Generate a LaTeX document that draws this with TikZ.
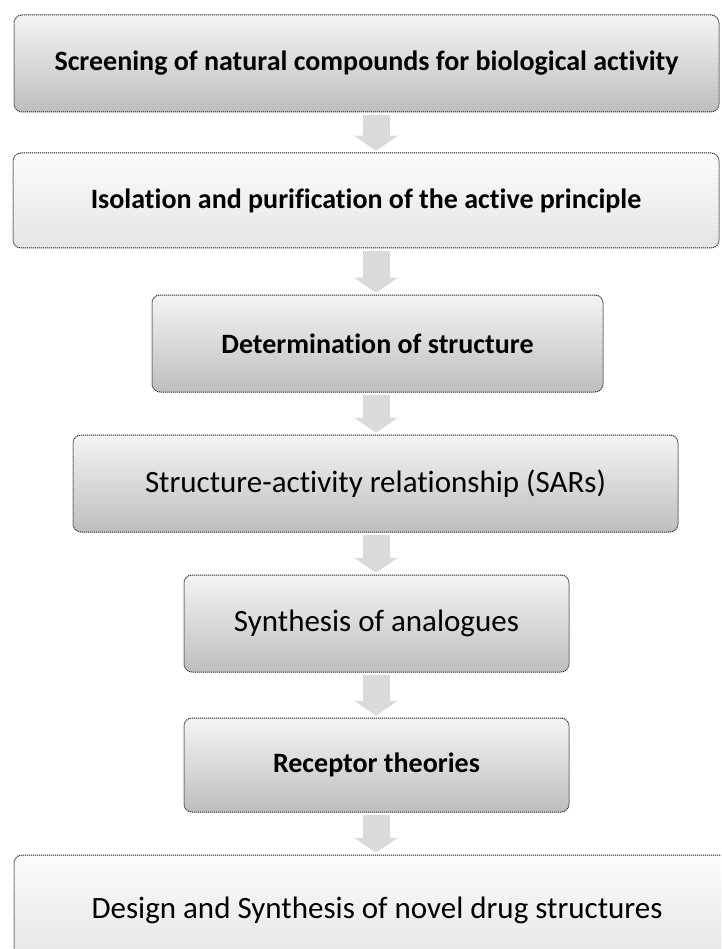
\documentclass[tikz,border=0pt]{standalone}
\usepackage{fontspec}
\setmainfont{Carlito}[Ligatures=NoCommon]
\usetikzlibrary{arrows.meta}
\definecolor{boxtop}{HTML}{F4F4F4}
\definecolor{boxbot}{HTML}{BEBEBE}
\definecolor{lighttop}{HTML}{FCFCFC}
\definecolor{lightbot}{HTML}{E4E4E4}
\definecolor{arrowgrey}{HTML}{DADADA}
\begin{document}
\begin{tikzpicture}[x=1pt,y=-1pt,
  box/.style={rounded corners=8pt, draw=gray!60, line width=0.5pt,
    top color=boxtop, bottom color=boxbot, inner sep=0pt, anchor=center,
    postaction={draw=black!80, densely dotted, line width=1pt}},
  lightbox/.style={box, top color=lighttop, bottom color=lightbot},
  boldtext/.style={font=\fontsize{28}{32}\selectfont\bfseries},
  plaintext/.style={font=\fontsize{31}{35}\selectfont},
  flowarrow/.style={draw=arrowgrey, line width=27pt,
    -{Triangle[width=43pt,length=15pt]}, shorten <=3pt, shorten >=2pt}
]
\useasboundingbox (0,0) rectangle (721,949);
\clip (0,0) rectangle (721,949);
\coordinate (ax) at (376,0);

\node[box, boldtext, minimum width=705pt, minimum height=97pt] (b1) at (366.5,63.5)
  {Screening of natural compounds for biological activity};
\node[lightbox, boldtext, minimum width=706pt, minimum height=95pt] (b2) at (366,200.5)
  {Isolation and purification of the active principle};
\node[box, boldtext, minimum width=451pt, minimum height=97pt] (b3) at (377.5,343.5)
  {Determination of structure};
\node[box, plaintext, minimum width=605pt, minimum height=97pt] (b4) at (375.5,483.5)
  {Structure-activity relationship (SARs)};
\node[box, plaintext, minimum width=385pt, minimum height=97pt] (b5) at (376.5,623.5)
  {Synthesis of analogues};
\node[box, boldtext, minimum width=385pt, minimum height=94pt] (b6) at (376.5,765)
  {Receptor theories};
\node[lightbox, plaintext, minimum width=726pt, minimum height=110pt] (b7) at (377,910)
  {Design and Synthesis of novel drug structures};

\draw[flowarrow] (b1.south -| ax) -- (b2.north -| ax);
\draw[flowarrow] (b2.south -| ax) -- (b3.north -| ax);
\draw[flowarrow] (b3.south -| ax) -- (b4.north -| ax);
\draw[flowarrow] (b4.south -| ax) -- (b5.north -| ax);
\draw[flowarrow] (b5.south -| ax) -- (b6.north -| ax);
\draw[flowarrow] (b6.south -| ax) -- (b7.north -| ax);
\end{tikzpicture}
\end{document}
